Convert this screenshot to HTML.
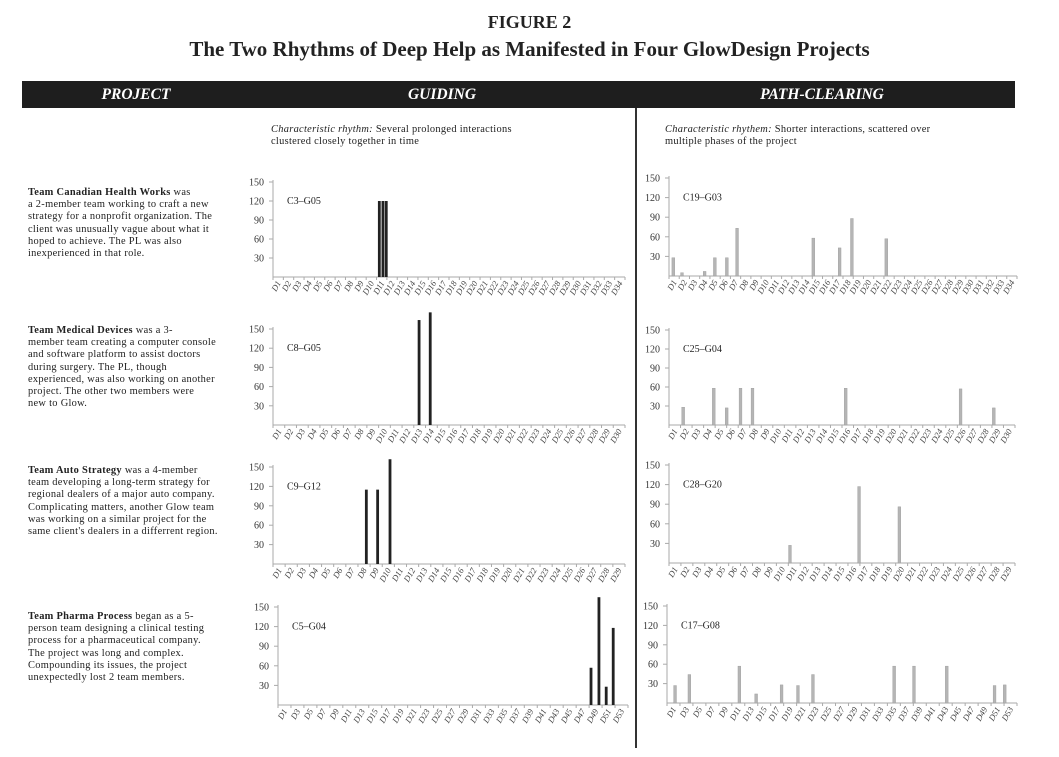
<!DOCTYPE html>
<html><head><meta charset="utf-8">
<style>
body{margin:0;width:1059px;height:757px;background:#fff;position:relative;overflow:hidden;font-family:"Liberation Serif",serif;color:#222}
.abs{position:absolute}
.title{left:0;width:1059px;text-align:center;font-weight:bold}
.hdr{left:22px;top:81px;width:993px;height:27px;background:#1e1e1e}
.hdr span{position:absolute;top:5px;color:#fff;font-weight:bold;font-style:italic;font-size:15.5px;transform:translateX(-50%)}
.desc{left:28px;font-size:10.4px;line-height:12.2px;letter-spacing:0.3px;white-space:nowrap}
.rh{font-size:10.4px;line-height:12px;letter-spacing:0.3px;white-space:nowrap}
svg{position:absolute;left:0;top:0}
svg text{font-family:"Liberation Serif",serif}
</style></head><body>
<div class="abs title" style="top:12px;font-size:18px">FIGURE 2</div>
<div class="abs title" style="top:37px;font-size:21px">The Two Rhythms of Deep Help as Manifested in Four GlowDesign Projects</div>
<div class="abs hdr">
<span style="left:114px">PROJECT</span>
<span style="left:420px">GUIDING</span>
<span style="left:800px">PATH-CLEARING</span>
</div>
<div class="abs" style="left:635px;top:108px;width:2px;height:640px;background:#333"></div>
<div class="abs rh" style="left:271px;top:124px"><i>Characteristic rhythm:</i> Several prolonged interactions<br>clustered closely together in time</div>
<div class="abs rh" style="left:665px;top:124px"><i>Characteristic rhythem:</i> Shorter interactions, scattered over<br>multiple phases of the project</div>
<div class="abs desc" style="top:187px"><b>Team Canadian Health Works</b> was<br>a 2-member team working to craft a new<br>strategy for a nonprofit organization. The<br>client was unusually vague about what it<br>hoped to achieve. The PL was also<br>inexperienced in that role.</div>
<div class="abs desc" style="top:325px"><b>Team Medical Devices</b> was a 3-<br>member team creating a computer console<br>and software platform to assist doctors<br>during surgery. The PL, though<br>experienced, was also working on another<br>project. The other two members were<br>new to Glow.</div>
<div class="abs desc" style="top:465px"><b>Team Auto Strategy</b> was a 4-member<br>team developing a long-term strategy for<br>regional dealers of a major auto company.<br>Complicating matters, another Glow team<br>was working on a similar project for the<br>same client's dealers in a differrent region.</div>
<div class="abs desc" style="top:611px"><b>Team Pharma Process</b> began as a 5-<br>person team designing a clinical testing<br>process for a pharmaceutical company.<br>The project was long and complex.<br>Compounding its issues, the project<br>unexpectedly lost 2 team members.</div>
<svg id="s" width="1059" height="757"></svg>
<script>
// data: day positions (fractional day index) and minutes per interaction
const yTicks=[30,60,90,120,150];
const g1Days=[10.77,11.12,11.44], g1Vals=[120,120,120];
const p1Days=[0.92,1.77,3.98,4.98,6.15,7.15,14.6,17.17,18.37,21.73], p1Vals=[28,5,7,28,28,73,58,43,88,57];
const g2Days=[12.95,13.9], g2Vals=[164,176];
const p2Days=[1.73,4.38,5.5,6.7,7.74,15.82,25.78,28.66], p2Vals=[28,58,27,58,58,58,57,27];
const g3Days=[8.19,9.12,10.14], g3Vals=[115,115,162];
const p3Days=[10.64,16.43,19.81], p3Vals=[27,117,86];
const g4Days=[47.9,49.1,50.2,51.26], g4Vals=[57,165,28,118];
const p4Days=[1.72,3.89,11.46,14.0,17.85,20.33,22.6,34.9,37.9,42.86,50.1,51.64], p4Vals=[27,44,57,14,28,27,44,57,57,57,27,28];
const dayCounts=[34,34,30,30,29,29,53,53];
const labelSteps=[1,1,1,1,1,1,2,2];
const chartNames=['C3–G05','C19–G03','C8–G05','C25–G04','C9–G12','C28–G20','C5–G04','C17–G08'];

const geo=[[273,625,277,182],[669,1017,276,178],[273,625,425,329],[669,1015,425,330],
[273,625,564,467],[669,1015,563,465],[278,628,705,607],[667,1017,703,606]];
const series=[[g1Days,g1Vals],[p1Days,p1Vals],[g2Days,g2Vals],[p2Days,p2Vals],[g3Days,g3Vals],[p3Days,p3Vals],[g4Days,g4Vals],[p4Days,p4Vals]];
const S=document.getElementById('s'),NS='http://www.w3.org/2000/svg';
function mk(t,a,p){const e=document.createElementNS(NS,t);for(const k in a)e.setAttribute(k,a[k]);(p||S).appendChild(e);return e;}
series.forEach((sr,i)=>{
  const [x0,x1,yA,yT]=geo[i],N=dayCounts[i],w=(x1-x0)/N,guiding=i%2===0;
  const xs=d=>x0+(d-0.5)*w, ys=v=>yA-(v/150)*(yA-yT);
  const g=mk('g',{});
  
  
  const ya=mk('line',{x1:x0,y1:yT-2,x2:x0,y2:yA,stroke:'#aaa','stroke-width':1},g);
  
  
  const xa=mk('line',{x1:x0,y1:yA,x2:x1,y2:yA,stroke:'#aaa','stroke-width':1},g);
  
  
  yTicks.forEach(t=>{
    mk('line',{x1:x0-4,y1:ys(t),x2:x0,y2:ys(t),stroke:'#aaa'},g);
    const tx=mk('text',{x:x0-9,y:ys(t)+3.5,'font-size':10,'text-anchor':'end',fill:'#333'},g);
    tx.textContent=t;
    
    
  });
  const step=labelSteps[i],nl=Math.ceil(N/step),lw=(x1-x0)/nl;
  for(let k=0;k<=nl;k++)mk('line',{x1:x0+k*lw,y1:yA,x2:x0+k*lw,y2:yA+3,stroke:'#aaa'},g);
  for(let k=0;k<nl;k++){
    const cx=x0+(k+0.5)*lw+3,cy=yA+6;
    const tx=mk('text',{x:cx,y:cy,'font-size':8.5,'font-style':'italic','text-anchor':'end',fill:'#444',transform:`rotate(-60 ${cx} ${cy})`},g);
    tx.textContent='D'+(1+k*step);
    
    
  }
  const nm=mk('text',{x:x0+14,y:ys(120)+3,'font-size':10,fill:'#222'},g);
  nm.textContent=chartNames[i];
  
  
  sr[0].forEach((d,j)=>{
    const v=sr[1][j],x=xs(d),y=ys(v);
    const r=mk('rect',{x:x-1.4,y:y,width:2.8,height:yA-y,fill:guiding?'#222':'#b5b5b5',stroke:guiding?'none':'#999','stroke-width':0.4},g);
    
    
  });
});
</script>
</body></html>
